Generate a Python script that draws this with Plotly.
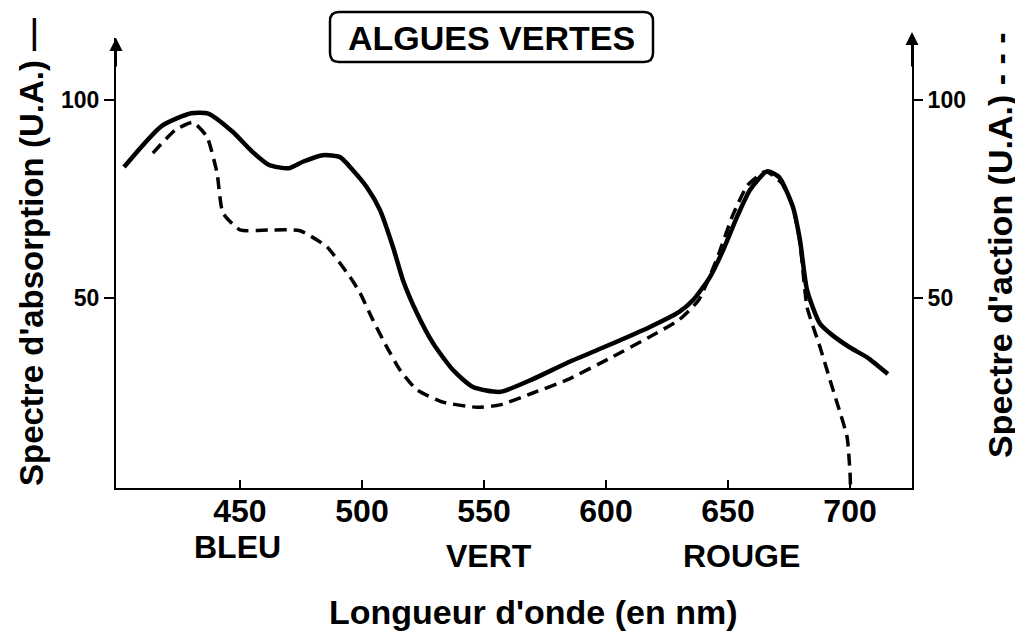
import plotly.graph_objects as go

# Absorption spectrum (solid) - wavelength (nm) and value (U.A.)
abs_nm = [402.5, 418, 430, 437, 447, 455, 462, 470, 476, 484, 491, 496, 502, 507.4, 512.7, 516.8,
          522.5, 529.1, 537.3, 545.5, 556.6, 570, 584, 600, 618, 630, 635.7, 642.6, 648, 653.7, 659,
          666, 671, 676.6, 679.5, 682.4, 687.7, 693, 700, 707, 715.5]
abs_val = [83.1, 93.5, 96.7, 96.6, 92.0, 87.0, 83.6, 82.8, 84.5, 86.1, 85.6, 82.5, 78.0, 72.2, 62.9, 54.5,
           46.2, 38.6, 31.8, 27.5, 26.3, 29.5, 33.6, 37.8, 42.7, 46.5, 49.5, 55.3, 62.1, 70.5, 77.3,
           82.0, 80.5, 73.0, 64.6, 52.0, 43.5, 40.5, 37.5, 35.0, 30.8]

# Action spectrum (dashed)
act_nm = [414.3, 423.4, 430.7, 436.5, 440.6, 443, 450, 462, 474.6, 485.7, 495.1, 499.2, 504.5,
          510.2, 515.6, 522.5, 533.2, 547, 556.6, 570, 584, 601.6, 618, 630, 638, 645.5, 652, 658,
          665.5, 672, 676.6, 679.5, 682.4, 687.7, 691.8, 694.7, 698.8, 700, 700.2]
act_val = [86.6, 92.4, 94.4, 90.7, 81.6, 71.5, 67.2, 67.2, 67.0, 62.9, 55.3, 51.3, 44.4,
           37.6, 31.8, 26.8, 23.7, 22.4, 23.0, 26.0, 29.3, 34.8, 40.2, 44.5, 49.5, 60.0, 71.0, 78.5,
           82.0, 79.0, 73.0, 64.0, 47.7, 37.6, 29.3, 23.5, 14.9, 5.8, 2.0]

x_ticks = [450, 500, 550, 600, 650, 700]
y_ticks = [50, 100]
color_names = ["BLEU", "VERT", "ROUGE"]
color_pos = [449, 552, 655.7]

OFF = 8  # page body margin
W, H = 1023 - OFF, 631 - OFF
L, R, T, B = 116 - OFF, 912 - OFF, 38 - OFF, 488 - OFF  # plot area in figure pixels


def px(xp):  # reference-image x pixel -> paper
    return (xp - OFF - L) / (R - L)


def py(yp):  # reference-image y pixel -> paper
    return (B - (yp - OFF)) / (B - T)


FONT = "Liberation Sans, Arial, sans-serif"

fig = go.Figure()
fig.add_trace(go.Scatter(x=abs_nm, y=abs_val, mode="lines",
                         line=dict(color="black", width=4.5, shape="spline", smoothing=0.6),
                         showlegend=False, hoverinfo="skip"))
fig.add_trace(go.Scatter(x=act_nm, y=act_val, mode="lines", yaxis="y2",
                         line=dict(color="black", width=3.5, dash="12px,7px", shape="spline", smoothing=0.5),
                         showlegend=False, hoverinfo="skip"))

tickfont = dict(family=FONT, size=32, color="black", weight="bold")
yfont = dict(family=FONT, size=23, color="black", weight="bold")
fig.update_layout(
    width=W, height=H,
    margin=dict(l=L, r=W - R, t=T, b=H - B),
    paper_bgcolor="white", plot_bgcolor="white",
    xaxis=dict(range=[399.2, 725.4], showline=True, linecolor="black", linewidth=2,
               ticks="inside", ticklen=8, tickwidth=2, tickcolor="black",
               tickvals=x_ticks, ticktext=[str(v) for v in x_ticks],
               tickfont=tickfont, ticklabelstandoff=-6, showgrid=False, zeroline=False),
    yaxis=dict(range=[2, 115.7], showline=True, linecolor="black", linewidth=2,
               ticks="outside", ticklen=10, tickwidth=2, tickcolor="black",
               tickvals=y_ticks, tickfont=yfont, showgrid=False, zeroline=False),
    yaxis2=dict(range=[2, 115.7], overlaying="y", side="right", showline=True,
                linecolor="black", linewidth=2, ticks="outside", ticklen=9, tickwidth=2,
                tickcolor="black", tickvals=y_ticks, tickfont=yfont,
                showgrid=False, zeroline=False),
)

# Axis arrows
fig.add_annotation(x=0, y=1, xref="paper", yref="paper", ax=0, ay=30, text="",
                   showarrow=True, arrowhead=2, arrowsize=1.3, arrowwidth=2, arrowcolor="black")
fig.add_annotation(x=1, y=py(32), xref="paper", yref="paper", ax=0, ay=36, text="",
                   showarrow=True, arrowhead=2, arrowsize=1.3, arrowwidth=2, arrowcolor="black")

# Title box (rounded rectangle)
x0, x1, y0, y1, r = 330, 653, 12, 62, 9
path = (f"M {px(x0 + r)},{py(y0)} L {px(x1 - r)},{py(y0)} Q {px(x1)},{py(y0)} {px(x1)},{py(y0 + r)} "
        f"L {px(x1)},{py(y1 - r)} Q {px(x1)},{py(y1)} {px(x1 - r)},{py(y1)} "
        f"L {px(x0 + r)},{py(y1)} Q {px(x0)},{py(y1)} {px(x0)},{py(y1 - r)} "
        f"L {px(x0)},{py(y0 + r)} Q {px(x0)},{py(y0)} {px(x0 + r)},{py(y0)} Z")
fig.add_shape(type="path", path=path, xref="paper", yref="paper",
              line=dict(color="black", width=2.5))
fig.add_annotation(x=px(491.5), y=py(38), xref="paper", yref="paper", text="ALGUES VERTES",
                   showarrow=False, xanchor="center", yanchor="middle",
                   font=dict(family=FONT, size=34, color="black", weight="bold"))

# Colour names under the x axis
for name, pos in zip(color_names, color_pos):
    yc = 547 if name == "BLEU" else 556
    fig.add_annotation(x=pos, y=py(yc), xref="x", yref="paper", text=name, showarrow=False,
                       xanchor="center", yanchor="middle",
                       font=dict(family=FONT, size=32, color="black", weight="bold"))

# Axis titles
fig.add_annotation(x=px(533), y=py(612), xref="paper", yref="paper",
                   text="Longueur d'onde (en nm)", showarrow=False,
                   xanchor="center", yanchor="middle",
                   font=dict(family=FONT, size=34, color="black", weight="bold"))
fig.add_annotation(x=px(32), y=py(252), xref="paper", yref="paper",
                   text="Spectre d'absorption (U.A.) —", showarrow=False, textangle=-90,
                   xanchor="center", yanchor="middle",
                   font=dict(family=FONT, size=33, color="black", weight="bold"))
fig.add_annotation(x=px(1000), y=py(245), xref="paper", yref="paper",
                   text="Spectre d'action (U.A.) - - -", showarrow=False, textangle=-90,
                   xanchor="center", yanchor="middle",
                   font=dict(family=FONT, size=34, color="black", weight="bold"))

fig.write_html("out.html")
